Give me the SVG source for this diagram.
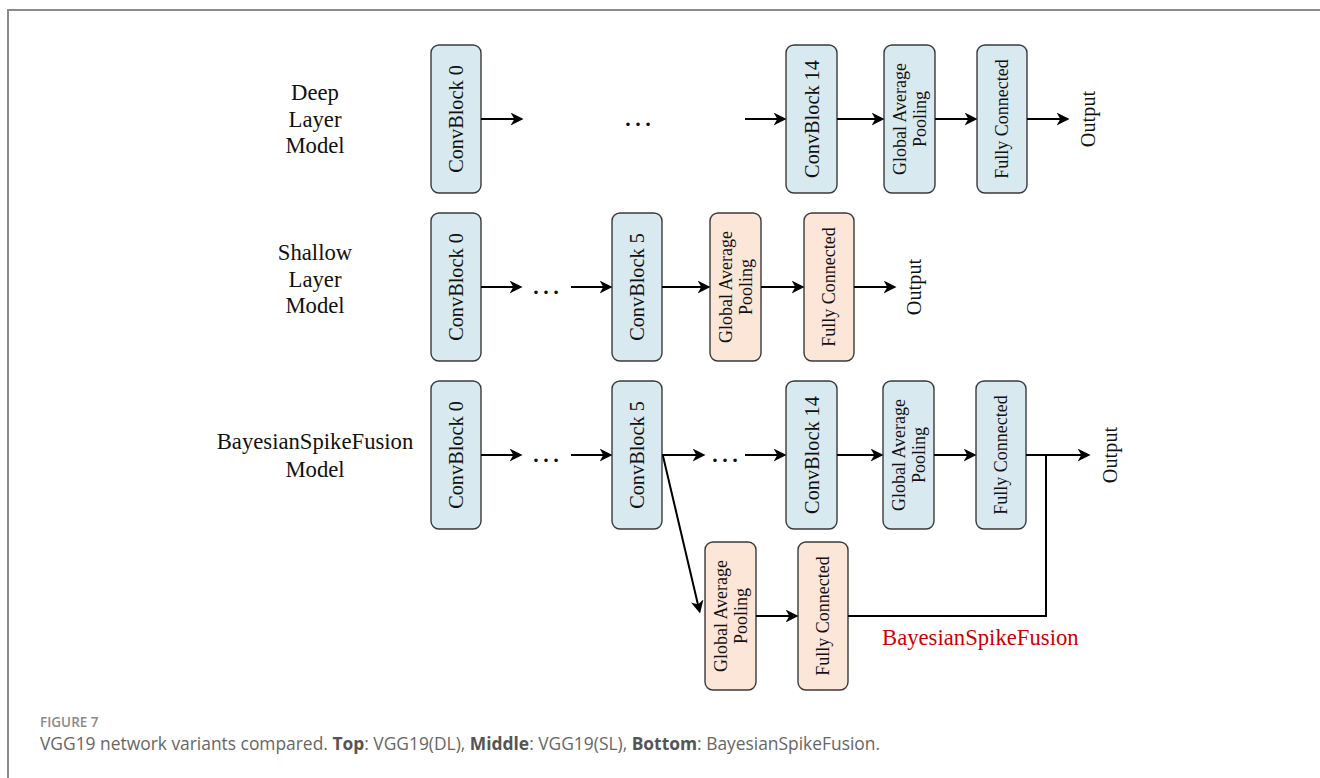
<svg xmlns="http://www.w3.org/2000/svg" width="1320" height="778" viewBox="0 0 1320 778">
<defs>
<style>
.frame{fill:none;stroke:#8a8a8a;stroke-width:2}
.blue{fill:#d9e9f0;stroke:#3a3a3a;stroke-width:1.4}
.beige{fill:#fbe6d8;stroke:#3a3a3a;stroke-width:1.4}
.t20{font-family:"Liberation Serif","Times New Roman",serif;font-size:20.3px;fill:#111}
.t18{font-family:"Liberation Serif","Times New Roman",serif;font-size:18px;fill:#111}
.lab{font-family:"Liberation Serif","Times New Roman",serif;font-size:22.7px;fill:#111;text-anchor:middle}
.red{font-family:"Liberation Serif","Times New Roman",serif;font-size:22.7px;fill:#cc0000}
.dots{font-family:"Liberation Serif","Times New Roman",serif;font-size:30px;fill:#111;text-anchor:middle}
.conn line,.conn path{stroke:#000;stroke-width:2;fill:none}
.arr{marker-end:url(#ah)}
.cap1{font-family:"Open Sans","Noto Sans",sans-serif;font-size:13.5px;fill:#8a8a8a;font-weight:600}
.cap2{font-family:"Open Sans","Noto Sans",sans-serif;font-size:17.4px;fill:#666}
.cap2 .b{font-weight:700;fill:#555}
</style>
<marker id="ah" viewBox="0 0 13 13" refX="6.5" refY="6.5" markerWidth="13" markerHeight="13" markerUnits="userSpaceOnUse" orient="auto">
<path d="M0,0 L13,6.5 L0,13 L3.8,6.5 z" fill="#000"/>
</marker>
</defs>
<rect width="1320" height="778" fill="#fff"/>
<path class="frame" d="M8,778 V10 H1320"/>

<!-- row labels -->
<g id="label-deep"><text class="lab" x="315" y="100">Deep</text><text class="lab" x="315" y="127">Layer</text><text class="lab" x="315" y="153">Model</text></g>
<g id="label-shallow"><text class="lab" x="315" y="260">Shallow</text><text class="lab" x="315" y="287">Layer</text><text class="lab" x="315" y="313">Model</text></g>
<g id="label-bsf"><text class="lab" x="315" y="449">BayesianSpikeFusion</text><text class="lab" x="315" y="477">Model</text></g>

<!-- top row -->
<g id="d-cb0"><rect class="blue" x="431" y="45" width="50" height="148" rx="8"/><text class="t20" transform="translate(456,119) rotate(-90)" text-anchor="middle" dominant-baseline="central">ConvBlock 0</text></g>
<g id="d-cb14"><rect class="blue" x="786" y="45" width="51" height="148" rx="8"/><text class="t20" transform="translate(811.5,119) rotate(-90)" text-anchor="middle" dominant-baseline="central">ConvBlock 14</text></g>
<g id="d-gap"><rect class="blue" x="884" y="45" width="51" height="148" rx="8"/><text class="t18" transform="translate(909.5,119) rotate(-90)" text-anchor="middle" dominant-baseline="central"><tspan x="0" y="-10">Global Average</tspan><tspan x="0" y="10">Pooling</tspan></text></g>
<g id="d-fc"><rect class="blue" x="977" y="45" width="50" height="148" rx="8"/><text class="t18" transform="translate(1002,119) rotate(-90)" text-anchor="middle" dominant-baseline="central">Fully Connected</text></g>
<g id="d-out"><text class="t20" transform="translate(1088,119) rotate(-90)" text-anchor="middle" dominant-baseline="central">Output</text></g>
<g id="d-dots"><text class="dots" x="638" y="126">…</text></g>

<!-- middle row -->
<g id="s-cb0"><rect class="blue" x="431" y="213" width="50" height="148" rx="8"/><text class="t20" transform="translate(456,287) rotate(-90)" text-anchor="middle" dominant-baseline="central">ConvBlock 0</text></g>
<g id="s-cb5"><rect class="blue" x="612" y="213" width="50" height="148" rx="8"/><text class="t20" transform="translate(637,287) rotate(-90)" text-anchor="middle" dominant-baseline="central">ConvBlock 5</text></g>
<g id="s-gap"><rect class="beige" x="710" y="213" width="51" height="148" rx="8"/><text class="t18" transform="translate(735.5,287) rotate(-90)" text-anchor="middle" dominant-baseline="central"><tspan x="0" y="-10">Global Average</tspan><tspan x="0" y="10">Pooling</tspan></text></g>
<g id="s-fc"><rect class="beige" x="804" y="213" width="50" height="148" rx="8"/><text class="t18" transform="translate(829,287) rotate(-90)" text-anchor="middle" dominant-baseline="central">Fully Connected</text></g>
<g id="s-out"><text class="t20" transform="translate(914,287) rotate(-90)" text-anchor="middle" dominant-baseline="central">Output</text></g>
<g id="s-dots"><text class="dots" x="546" y="294">…</text></g>

<!-- bottom row -->
<g id="b-cb0"><rect class="blue" x="431" y="381" width="50" height="148" rx="8"/><text class="t20" transform="translate(456,455) rotate(-90)" text-anchor="middle" dominant-baseline="central">ConvBlock 0</text></g>
<g id="b-cb5"><rect class="blue" x="612" y="381" width="50" height="148" rx="8"/><text class="t20" transform="translate(637,455) rotate(-90)" text-anchor="middle" dominant-baseline="central">ConvBlock 5</text></g>
<g id="b-cb14"><rect class="blue" x="786" y="381" width="51" height="148" rx="8"/><text class="t20" transform="translate(811.5,455) rotate(-90)" text-anchor="middle" dominant-baseline="central">ConvBlock 14</text></g>
<g id="b-gap"><rect class="blue" x="883" y="381" width="51" height="148" rx="8"/><text class="t18" transform="translate(908.5,455) rotate(-90)" text-anchor="middle" dominant-baseline="central"><tspan x="0" y="-10">Global Average</tspan><tspan x="0" y="10">Pooling</tspan></text></g>
<g id="b-fc"><rect class="blue" x="976" y="381" width="50" height="148" rx="8"/><text class="t18" transform="translate(1001,455) rotate(-90)" text-anchor="middle" dominant-baseline="central">Fully Connected</text></g>
<g id="b-out"><text class="t20" transform="translate(1110,455) rotate(-90)" text-anchor="middle" dominant-baseline="central">Output</text></g>
<g id="b-dots1"><text class="dots" x="546" y="462">…</text></g>
<g id="b-dots2"><text class="dots" x="725" y="462">…</text></g>
<g id="b-gap2"><rect class="beige" x="705" y="542" width="51" height="148" rx="8"/><text class="t18" transform="translate(730.5,616) rotate(-90)" text-anchor="middle" dominant-baseline="central"><tspan x="0" y="-10">Global Average</tspan><tspan x="0" y="10">Pooling</tspan></text></g>
<g id="b-fc2"><rect class="beige" x="798" y="542" width="50" height="148" rx="8"/><text class="t18" transform="translate(823,616) rotate(-90)" text-anchor="middle" dominant-baseline="central">Fully Connected</text></g>
<g id="b-fusion"><text class="red" x="882" y="645">BayesianSpikeFusion</text></g>

<!-- connectors -->
<g id="connectors" class="conn">
<line class="arr" x1="481" y1="119" x2="517" y2="119"/>
<line class="arr" x1="745" y1="119" x2="780" y2="119"/>
<line class="arr" x1="837" y1="119" x2="878" y2="119"/>
<line class="arr" x1="935" y1="119" x2="971" y2="119"/>
<line class="arr" x1="1027" y1="119" x2="1063" y2="119"/>

<line class="arr" x1="481" y1="287" x2="516" y2="287"/>
<line class="arr" x1="571" y1="287" x2="606" y2="287"/>
<line class="arr" x1="662" y1="287" x2="704" y2="287"/>
<line class="arr" x1="761" y1="287" x2="798" y2="287"/>
<line class="arr" x1="854" y1="287" x2="890" y2="287"/>

<line class="arr" x1="481" y1="455" x2="516" y2="455"/>
<line class="arr" x1="571" y1="455" x2="606" y2="455"/>
<line class="arr" x1="662" y1="455" x2="699" y2="455"/>
<line class="arr" x1="745" y1="455" x2="780" y2="455"/>
<line class="arr" x1="837" y1="455" x2="877" y2="455"/>
<line class="arr" x1="934" y1="455" x2="970" y2="455"/>
<line class="arr" x1="1026" y1="455" x2="1084" y2="455"/>
<line class="arr" x1="663" y1="456" x2="698.6" y2="607.2"/>
<line class="arr" x1="756" y1="616" x2="792" y2="616"/>
<path d="M848,616 H1046 V455"/>
</g>

<!-- caption -->
<text class="cap1" x="40" y="727">FIGURE 7</text>
<text class="cap2" x="40" y="750">VGG19 network variants compared. <tspan class="b">Top</tspan>: VGG19(DL), <tspan class="b">Middle</tspan>: VGG19(SL), <tspan class="b">Bottom</tspan>: BayesianSpikeFusion.</text>
</svg>
